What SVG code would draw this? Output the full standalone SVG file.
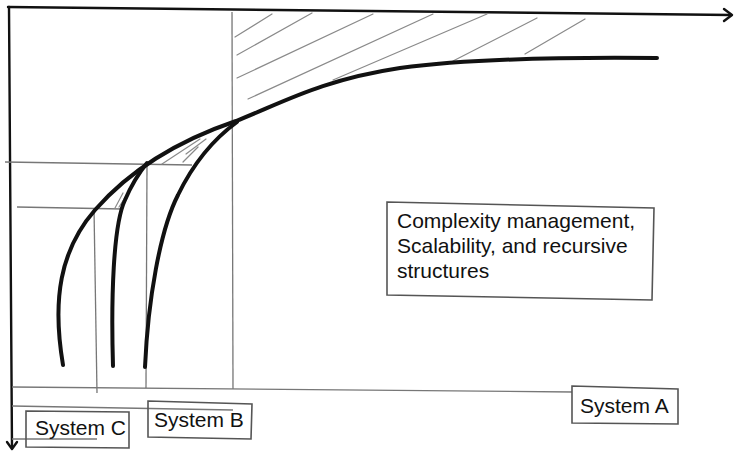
<svg xmlns="http://www.w3.org/2000/svg" width="736" height="452" viewBox="0 0 736 452">
<style>
.axis{fill:none;stroke:#111;stroke-width:2.4;stroke-linecap:round;stroke-linejoin:round}
.thin{fill:none;stroke:#777;stroke-width:1.3}
.hatch{fill:none;stroke:#8a8a8a;stroke-width:1.2;stroke-linecap:round}
.curve{fill:none;stroke:#111;stroke-width:4;stroke-linecap:round}
.box{fill:#fff;stroke:#555;stroke-width:1.6}
.lbl{font-family:"Liberation Sans",Arial,sans-serif;font-size:21px;fill:#111}
</style>
<rect width="736" height="452" fill="#fff"/>
<g id="axes">
<path class="axis" d="M8,7 L731,15"/>
<path class="axis" d="M724,9 L732,15 L724,21"/>
<path class="axis" d="M9,7 L12,448"/>
<path class="axis" d="M7,442 L12,449 L17,442"/>
</g>
<g id="guides">
<path class="thin" d="M232,12 L233,389"/>
<path class="thin" d="M5,162 L192,165"/>
<path class="thin" d="M17,207 L122,209"/>
<path class="thin" d="M147,164 L146,388"/>
<path class="thin" d="M94,208 L97,393"/>
<path class="thin" d="M12,387 L573,392"/>
<path class="thin" d="M12,406 L233,410"/>
<path class="thin" d="M12,439 L97,439"/>
</g>
<g id="hatching">
<path class="hatch" d="M235,37 L272,14"/>
<path class="hatch" d="M237,55 L312,13"/>
<path class="hatch" d="M237,78 L373,14"/>
<path class="hatch" d="M248,99 L433,14"/>
<path class="hatch" d="M333,80 L487,14"/>
<path class="hatch" d="M453,61 L537,18"/>
<path class="hatch" d="M525,54 L585,19"/>
<path class="hatch" d="M162,164 L200,139"/>
<path class="hatch" d="M183,162 L198,147"/>
<path class="hatch" d="M186,154 L206,139"/>
<path class="hatch" d="M115,208 L123,193"/>
<path class="hatch" d="M119,207 L126,196"/>
</g>
<g id="curves">
<path class="curve" d="M63,365 C52,300 60,250 95,210 S180,140 236,121 C280,104 320,80 400,68 C460,60 560,57 657,58"/>
<path class="curve" d="M113,366 C111,300 113,225 125,200 C131,186 138,174 147,163"/>
<path class="curve" d="M145,367 C148,300 160,230 178,195 C195,160 215,138 237,122"/>
</g>
<g id="note">
<path class="box" d="M387,202 L654,208 L652,300 L387,295 Z"/>
<text class="lbl" x="397" y="228">Complexity management,</text>
<text class="lbl" x="397" y="253">Scalability, and recursive</text>
<text class="lbl" x="397" y="278">structures</text>
</g>
<g id="systemA">
<path class="box" d="M572,386 L678,389 L678,424 L572,423 Z"/>
<text class="lbl" x="580" y="413">System A</text>
</g>
<g id="systemB">
<path class="box" d="M148,401 L252,404 L251,439 L148,437 Z" style="fill:none"/>
<text class="lbl" x="154" y="427">System B</text>
</g>
<g id="systemC">
<path class="box" d="M26,411 L129,412 L129,448 L26,447 Z" style="fill:none"/>
<text class="lbl" x="35" y="435">System C</text>
</g>
</svg>
